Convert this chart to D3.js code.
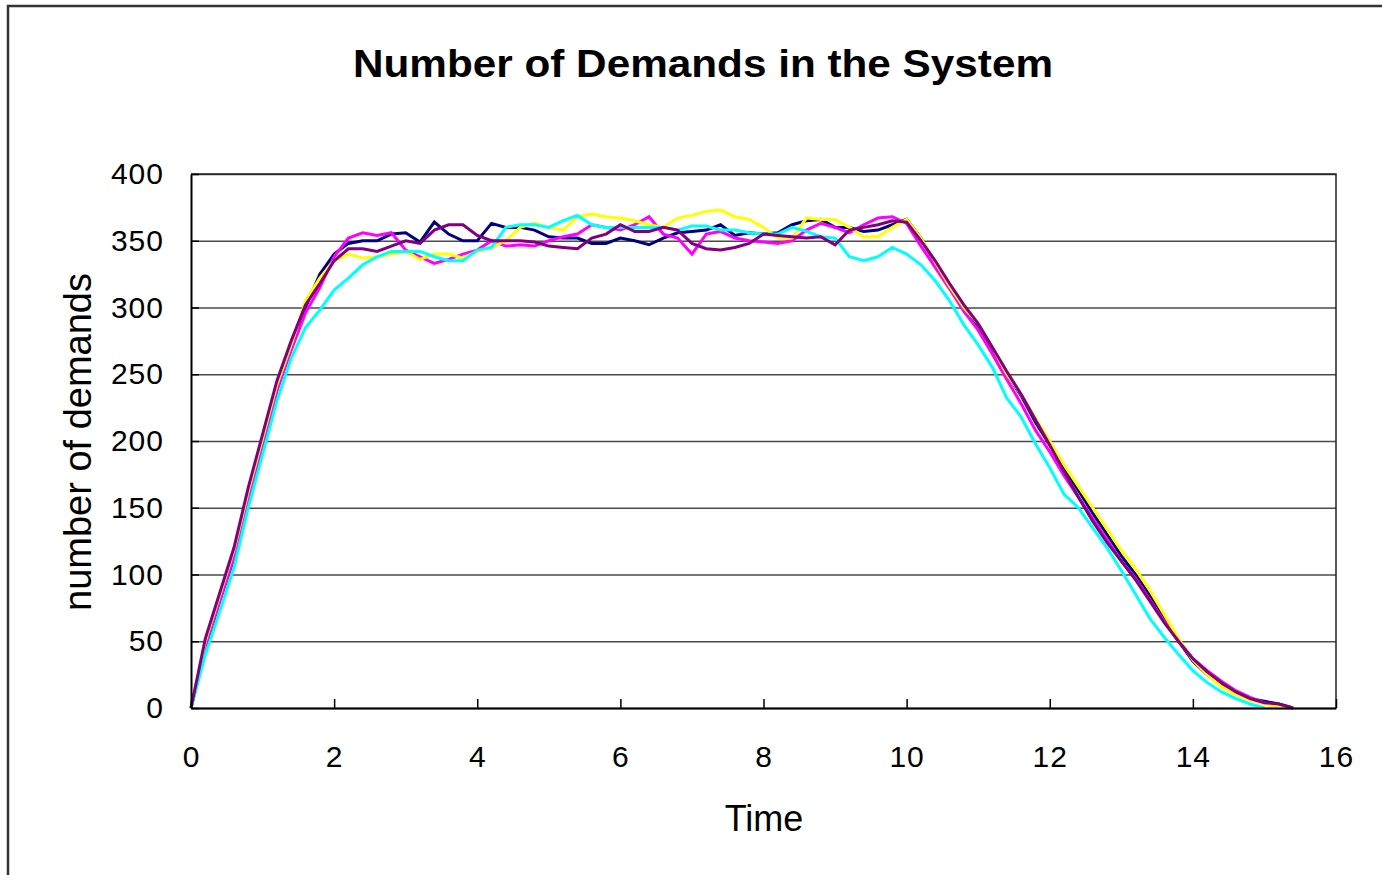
<!DOCTYPE html>
<html>
<head>
<meta charset="utf-8">
<script src="https://cdn.jsdelivr.net/npm/d3@7"></script>
<style>
    body { margin: 0; background: #fff; }
    text { font-family: "Liberation Sans", Arial, sans-serif; fill: #000; }
</style>
</head>
<body>
<div id="chart"></div>
<script>

// time grid (shared by all runs)
const times = [0, 0.2, 0.4, 0.6, 0.8, 1.0, 1.2, 1.4, 1.6, 1.8,
    2.0, 2.2, 2.4, 2.6, 2.8, 3.0, 3.2, 3.4, 3.6, 3.8,
    4.0, 4.2, 4.4, 4.6, 4.8, 5.0, 5.2, 5.4, 5.6, 5.8,
    6.0, 6.2, 6.4, 6.6, 6.8, 7.0, 7.2, 7.4, 7.6, 7.8,
    8.0, 8.2, 8.4, 8.6, 8.8, 9.0, 9.2, 9.4, 9.6, 9.8,
    10.0, 10.2, 10.4, 10.6, 10.8, 11.0, 11.2, 11.4, 11.6, 11.8,
    12.0, 12.2, 12.4, 12.6, 12.8, 13.0, 13.2, 13.4, 13.6, 13.8,
    14.0, 14.2, 14.4, 14.6, 14.8, 15.0, 15.2, 15.4];

// number of demands, one array per simulation run
const run1 = [0, 45, 80, 112, 157, 197, 238, 270, 300, 325,
    340, 348, 350, 350, 355, 356, 349, 364, 355, 350,
    350, 363, 360, 360, 358, 353, 352, 352, 348, 348,
    352, 350, 347, 352, 356, 357, 358, 362, 354, 356,
    355, 356, 362, 365, 366, 360, 360, 357, 358, 362,
    366, 352, 333, 317, 301, 286, 268, 250, 234, 214,
    197, 180, 163, 146, 130, 114, 100, 84, 66, 50,
    35, 25, 17, 11, 7, 5, 3, 0];

const run2 = [0, 47, 80, 113, 158, 198, 238, 268, 296, 315,
    338, 352, 356, 354, 356, 343, 338, 333, 336, 340,
    343, 350, 346, 347, 346, 350, 353, 355, 362, 360,
    358, 362, 368, 355, 352, 340, 355, 357, 352, 350,
    349, 348, 350, 358, 363, 360, 356, 362, 367, 368,
    363, 346, 330, 314, 297, 283, 265, 246, 228, 208,
    192, 174, 158, 142, 126, 110, 97, 81, 65, 50,
    37, 28, 20, 13, 8, 4, 1, 0];

const run3 = [0, 50, 84, 118, 162, 202, 242, 272, 305, 322,
    335, 340, 337, 338, 340, 342, 336, 340, 340, 337,
    342, 345, 350, 360, 363, 360, 358, 368, 370, 368,
    367, 365, 362, 360, 367, 369, 372, 373, 368, 366,
    360, 352, 352, 367, 366, 366, 360, 353, 353, 360,
    366, 352, 334, 316, 300, 288, 270, 250, 235, 217,
    200, 182, 166, 150, 134, 118, 104, 88, 70, 52,
    36, 25, 16, 10, 6, 3, 1, 0];

const run4 = [0, 40, 72, 105, 150, 190, 230, 262, 285, 298,
    313, 322, 332, 338, 342, 342, 342, 338, 335, 335,
    343, 345, 360, 362, 362, 360, 365, 369, 362, 360,
    360, 360, 360, 360, 358, 361, 361, 358, 358, 356,
    355, 355, 360, 357, 353, 352, 338, 335, 338, 345,
    340, 332, 320, 305, 287, 272, 255, 232, 218, 198,
    180, 160, 150, 135, 120, 103, 85, 67, 53, 40,
    28, 19, 12, 7, 3, 0, null, null];

const run5 = [0, 52, 86, 120, 165, 205, 245, 275, 302, 318,
    335, 344, 344, 342, 346, 350, 348, 358, 362, 362,
    354, 350, 350, 350, 349, 346, 345, 344, 352, 355,
    362, 357, 357, 360, 358, 348, 344, 343, 345, 348,
    355, 354, 353, 352, 353, 347, 358, 360, 362, 365,
    364, 350, 335, 318, 302, 288, 270, 252, 235, 216,
    197, 177, 158, 140, 124, 110, 96, 80, 64, 50,
    37, 27, 19, 12, 7, 4, 3, 0];

const runs = [run1, run2, run3, run4, run5];
const runColors = ["#000080", "#ff00ff", "#ffff00", "#00ffff", "#800080"];

const xTicks = [0, 2, 4, 6, 8, 10, 12, 14, 16];
const yTicks = [0, 50, 100, 150, 200, 250, 300, 350, 400];

class DemandChart {

    constructor(parentElement) {
        this.parentElement = parentElement;
        this.initVis();
    }

    initVis() {
        let vis = this;

        vis.fullWidth = 1382;
        vis.fullHeight = 875;
        vis.margin = { top: 174, right: 46, bottom: 167, left: 191 };
        vis.width = vis.fullWidth - vis.margin.left - vis.margin.right;
        vis.height = vis.fullHeight - vis.margin.top - vis.margin.bottom;

        vis.root = d3.select("#" + vis.parentElement).append("svg")
            .attr("width", vis.fullWidth)
            .attr("height", vis.fullHeight);

        // outer chart border (runs off the right and bottom edges)
        vis.root.append("rect")
            .attr("x", 8)
            .attr("y", 6)
            .attr("width", 1400)
            .attr("height", 900)
            .attr("fill", "none")
            .attr("stroke", "#333")
            .attr("stroke-width", 2.5);

        vis.root.append("text")
            .attr("x", 703)
            .attr("y", 77)
            .attr("text-anchor", "middle")
            .attr("font-size", 38)
            .attr("font-weight", "bold")
            .attr("textLength", 700)
            .attr("lengthAdjust", "spacingAndGlyphs")
            .text("Number of Demands in the System");

        vis.svg = vis.root.append("g")
            .attr("transform", "translate(" + vis.margin.left + "," + vis.margin.top + ")");

        vis.x = d3.scaleLinear().domain([0, 16]).range([0, vis.width]);
        vis.y = d3.scaleLinear().domain([0, 400]).range([vis.height, 0]);

        // horizontal gridlines
        vis.svg.append("g")
            .attr("class", "grid")
            .call(d3.axisLeft(vis.y).tickValues(yTicks).tickSize(-vis.width).tickFormat(""))
            .call(g => g.select(".domain").remove())
            .call(g => g.selectAll("line").attr("stroke", "#4a4a4a").attr("stroke-width", 1.5));

        // plot frame top / right
        vis.svg.append("path")
            .attr("d", "M0,0H" + vis.width + "V" + vis.height)
            .attr("fill", "none")
            .attr("stroke", "#222")
            .attr("stroke-width", 1.5);

        // lines
        vis.line = d3.line()
            .defined(d => d[1] !== null)
            .x(d => vis.x(d[0]))
            .y(d => vis.y(d[1]));

        runs.forEach((vals, i) => {
            vis.svg.append("path")
                .datum(times.map((t, j) => [t, vals[j]]))
                .attr("fill", "none")
                .attr("stroke", runColors[i])
                .attr("stroke-width", 3)
                .attr("stroke-linejoin", "miter")
                .attr("d", vis.line);
        });

        // y axis
        vis.yAxis = vis.svg.append("g")
            .call(d3.axisLeft(vis.y).tickValues(yTicks).tickSizeInner(-8).tickSizeOuter(0).tickPadding(27))
            .call(g => g.select(".domain").attr("stroke", "#000").attr("stroke-width", 2));
        vis.yAxis.selectAll(".tick line").attr("stroke", "#000").attr("stroke-width", 1.5);
        vis.yAxis.selectAll(".tick text")
            .attr("font-size", 30)
            .attr("letter-spacing", 1)
            .attr("font-family", "Liberation Sans, Arial, sans-serif");

        // x axis
        vis.xAxis = vis.svg.append("g")
            .attr("transform", "translate(0," + vis.height + ")")
            .call(d3.axisBottom(vis.x).tickValues(xTicks).tickSizeInner(-9).tickSizeOuter(0).tickPadding(38))
            .call(g => g.select(".domain").attr("stroke", "#000").attr("stroke-width", 2));
        vis.xAxis.selectAll(".tick line").attr("stroke", "#000").attr("stroke-width", 1.5);
        vis.xAxis.selectAll(".tick text")
            .attr("font-size", 30)
            .attr("letter-spacing", 1)
            .attr("font-family", "Liberation Sans, Arial, sans-serif");

        // axis titles
        vis.root.append("text")
            .attr("x", 764)
            .attr("y", 831)
            .attr("text-anchor", "middle")
            .attr("font-size", 36)
            .text("Time");

        vis.root.append("text")
            .attr("transform", "translate(91,442) rotate(-90)")
            .attr("text-anchor", "middle")
            .attr("font-size", 38)
            .text("number of demands");
    }
}

new DemandChart("chart");
</script>
</body>
</html>
